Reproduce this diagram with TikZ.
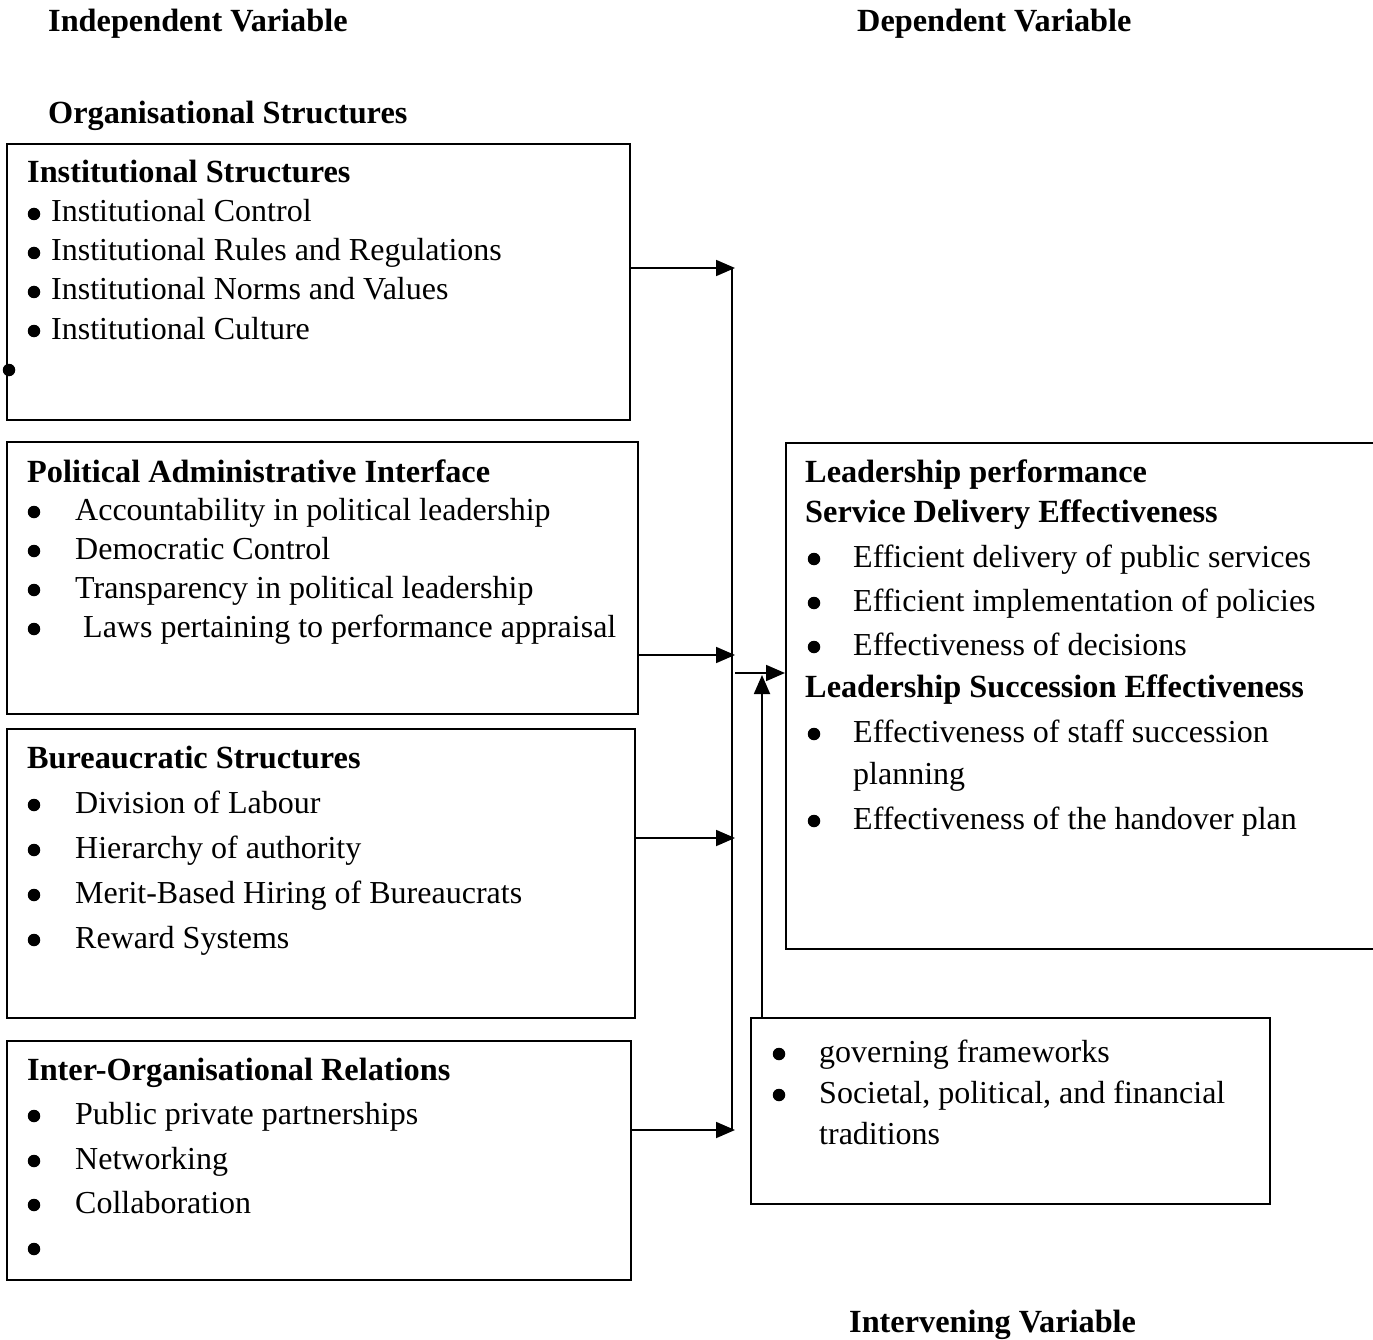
\documentclass[tikz,border=0pt]{standalone}
\usepackage{fontspec}
\setmainfont{Liberation Serif}
\usetikzlibrary{arrows.meta}
\begin{document}
\begin{tikzpicture}[x=1pt,y=-1pt,
  box/.style={draw, line width=1.8pt, rectangle, anchor=north west, inner sep=0pt},
  txt/.style={anchor=base west, inner sep=0pt, font=\fontsize{32}{38}\selectfont},
  hd/.style={anchor=base west, inner sep=0pt, font=\fontsize{32.3}{38}\selectfont\bfseries},
  dot/.style={circle, fill, draw=none, inner sep=0pt, minimum size=12.5pt},
  conn/.style={line width=1.8pt},
  arr/.style={line width=1.8pt, -{Triangle[length=19pt,width=16pt]}}]
\useasboundingbox (0,0) rectangle (1373,1340);

% titles
\node[hd] (tIV) at (48,32) {Independent Variable};
\node[hd] (tDV) at (857,32) {Dependent Variable};
\node[hd] (tOS) at (48,124) {Organisational Structures};
\node[hd] (tINV) at (849,1332) {Intervening Variable};

% boxes
\node[box, minimum width=623pt, minimum height=276pt] (b1) at (6,143) {};
\node[box, minimum width=631pt, minimum height=272pt] (b2) at (6,441) {};
\node[box, minimum width=628pt, minimum height=289pt] (b3) at (6,728) {};
\node[box, minimum width=624pt, minimum height=239pt] (b4) at (6,1040) {};
\node[box, minimum width=600pt, minimum height=506pt] (rb) at (785,442) {};
\node[box, minimum width=519pt, minimum height=186pt] (ib) at (750,1017) {};

% box 1
\node[hd] (h1) at (27,183) {Institutional Structures};
\node[dot] (p1a) at (34,214) {};
\node[txt] (b1a) at (51,222) {Institutional Control};
\node[dot] (p1b) at (34,253) {};
\node[txt] (b1b) at (51,261) {Institutional Rules and Regulations};
\node[dot] (p1c) at (34,292) {};
\node[txt] (b1c) at (51,300) {Institutional Norms and Values};
\node[dot] (p1d) at (34,331) {};
\node[txt] (b1d) at (51,339) {Institutional Culture};
\node[dot] (p1e) at (9,370) {};

% box 2
\node[hd] (h2) at (27,482) {Political Administrative Interface};
\node[dot] (p2a) at (34,512) {};
\node[txt] (t2a) at (75,520) {Accountability in political leadership};
\node[dot] (p2b) at (34,551) {};
\node[txt] (t2b) at (75,559) {Democratic Control};
\node[dot] (p2c) at (34,590) {};
\node[txt] (t2c) at (75,598) {Transparency in political leadership};
\node[dot] (p2d) at (34,629) {};
\node[txt] (t2d) at (83,637) {Laws pertaining to performance appraisal};

% box 3
\node[hd] (h3) at (27,768) {Bureaucratic Structures};
\node[dot] (p3a) at (34,805) {};
\node[txt] (t3a) at (75,813) {Division of Labour};
\node[dot] (p3b) at (34,850) {};
\node[txt] (t3b) at (75,858) {Hierarchy of authority};
\node[dot] (p3c) at (34,895) {};
\node[txt] (t3c) at (75,903) {Merit-Based Hiring of Bureaucrats};
\node[dot] (p3d) at (34,940) {};
\node[txt] (t3d) at (75,948) {Reward Systems};

% box 4
\node[hd] (h4) at (27,1080) {Inter-Organisational Relations};
\node[dot] (p4a) at (34,1116) {};
\node[txt] (t4a) at (75,1124) {Public private partnerships};
\node[dot] (p4b) at (34,1161) {};
\node[txt] (t4b) at (75,1169) {Networking};
\node[dot] (p4c) at (34,1205) {};
\node[txt] (t4c) at (75,1213) {Collaboration};
\node[dot] (p4d) at (34,1249) {};

% right box
\node[hd] (hr1) at (805,482) {Leadership performance};
\node[hd] (hr2) at (805,522) {Service Delivery Effectiveness};
\node[dot] (pra) at (814,559) {};
\node[txt] (tra) at (853,567) {Efficient delivery of public services};
\node[dot] (prb) at (814,603) {};
\node[txt] (trb) at (853,611) {Efficient implementation of policies};
\node[dot] (prc) at (814,647) {};
\node[txt] (trc) at (853,655) {Effectiveness of decisions};
\node[hd] (hr3) at (805,697) {Leadership Succession Effectiveness};
\node[dot] (prd) at (814,734) {};
\node[txt] (trd) at (853,742) {Effectiveness of staff succession};
\node[txt] (trd2) at (853,784) {planning};
\node[dot] (pre) at (814,821) {};
\node[txt] (tre) at (853,829) {Effectiveness of the handover plan};

% intervening box
\node[dot] (pia) at (779,1054) {};
\node[txt] (tia) at (819,1062) {governing frameworks};
\node[dot] (pib) at (779,1095) {};
\node[txt] (tib) at (819,1103) {Societal, political, and financial};
\node[txt] (tib2) at (819,1144) {traditions};

% connectors
\coordinate (bt) at (732,268);
\coordinate (bb) at (732,1130);
\coordinate (j1) at (735,268);
\coordinate (j2) at (735,655);
\coordinate (j3) at (735,838);
\coordinate (j4) at (735,1130);
\coordinate (m) at (735,673);
\coordinate (u) at (762,675);

\draw[conn] (bt) -- (bb);
\draw[arr] (b1.east |- j1) -- (j1);
\draw[arr] (b2.east |- j2) -- (j2);
\draw[arr] (b3.east |- j3) -- (j3);
\draw[arr] (b4.east |- j4) -- (j4);
\draw[arr] (m) -- (rb.west |- m);
\draw[arr] (ib.north -| u) -- (u);
\end{tikzpicture}
\end{document}
